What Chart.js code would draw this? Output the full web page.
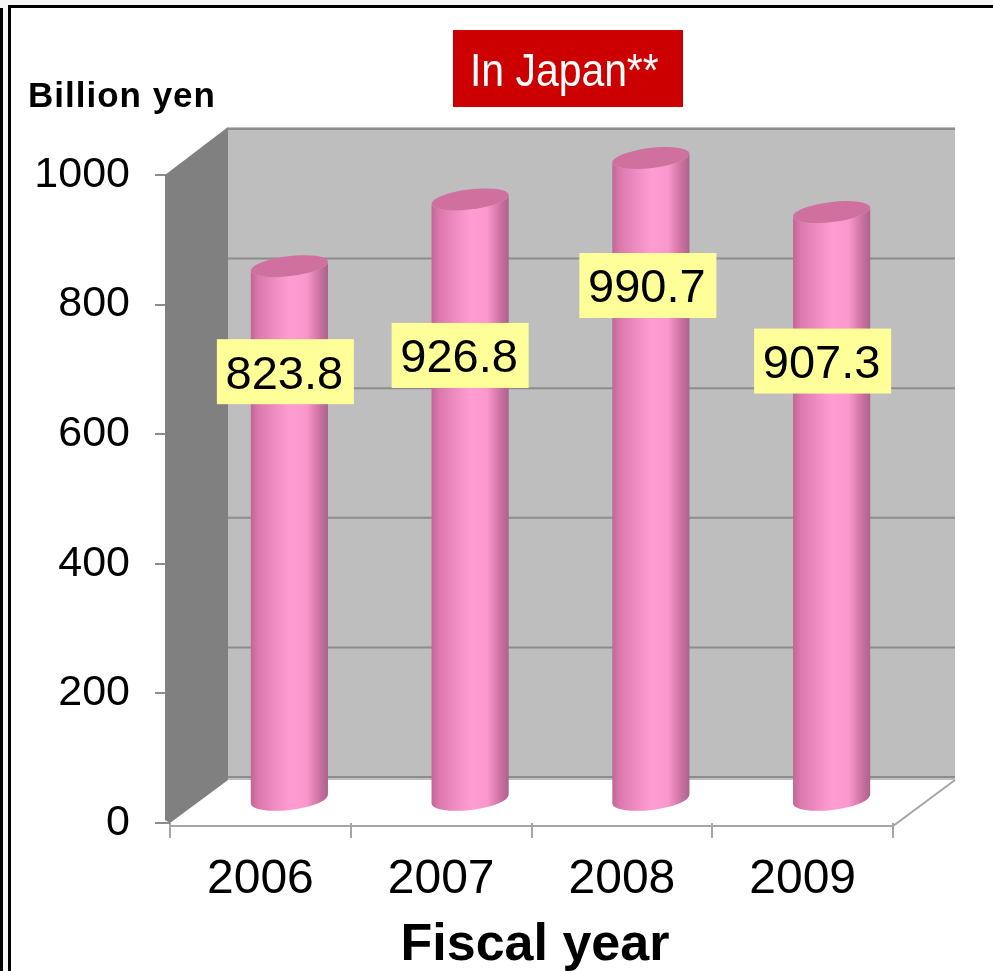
<!DOCTYPE html>
<html>
<head>
<meta charset="utf-8">
<title>In Japan</title>
<script src="https://cdn.jsdelivr.net/npm/chart.js@4"></script>
<style>
  html, body { margin: 0; padding: 0; background: #fff; overflow: hidden; }
  canvas { display: block; }
</style>
</head>
<body>
<canvas id="salesChart" width="993" height="971"></canvas>
<script>
const years = ["2006", "2007", "2008", "2009"];
const sales = [823.8, 926.8, 990.7, 907.3];
const yTicks = [0, 200, 400, 600, 800, 1000];

const FONT = '"Liberation Sans", Arial, sans-serif';

// how far the back wall sits behind the axes
const DEPTH_X = 58;
const DEPTH_Y = 46;

// value boxes are placed by hand, relative to each bar's top
const boxOffsets = [[-4, 105.5], [-10, 156], [-3, 127.5], [-9, 149]];
const BOX_W = 137;
const BOX_H = 65;

function drawFrame(ctx, w, h) {
  ctx.fillStyle = "#ffffff";
  ctx.fillRect(0, 0, w, h);
  ctx.fillStyle = "#f5f5f5";
  ctx.fillRect(0, 0, w, 5);
  ctx.fillRect(0, 0, 8, h);
  ctx.fillStyle = "#000000";
  ctx.fillRect(8, 5, w - 8, 3);
  ctx.fillRect(8, 5, 3, h - 5);
  ctx.fillRect(0, 8, 3, h - 8);
}

function drawWalls(chart) {
  const ctx = chart.ctx;
  const y = chart.scales.y;
  const a = chart.chartArea;
  const backLeft = a.left + DEPTH_X;
  const backRight = a.right + DEPTH_X + 4;
  const backTop = a.top - DEPTH_Y - 2;
  const backBottom = a.bottom - DEPTH_Y + 3;

  ctx.save();
  // back wall
  ctx.fillStyle = "#bebebe";
  ctx.fillRect(backLeft, backTop, backRight - backLeft, backBottom - backTop);

  // horizontal lines on the back wall
  ctx.strokeStyle = "#8c8c8c";
  ctx.lineWidth = 2;
  yTicks.forEach((t) => {
    const py = y.getPixelForValue(t) - DEPTH_Y;
    ctx.beginPath();
    ctx.moveTo(backLeft, py);
    ctx.lineTo(backRight, py);
    ctx.stroke();
  });

  // side wall
  ctx.fillStyle = "#808080";
  ctx.beginPath();
  ctx.moveTo(a.left - 5, a.top);
  ctx.lineTo(backLeft, backTop);
  ctx.lineTo(backLeft, backBottom);
  ctx.lineTo(a.left, a.bottom);
  ctx.lineTo(a.left - 5, a.bottom - 3);
  ctx.closePath();
  ctx.fill();

  // floor edges
  ctx.strokeStyle = "#a6a6a6";
  ctx.lineWidth = 2;
  ctx.beginPath();
  ctx.moveTo(a.left, a.bottom + 3);
  ctx.lineTo(a.right, a.bottom + 3);
  ctx.lineTo(backRight, backBottom);
  ctx.stroke();
  ctx.restore();
}

function drawCylinder(ctx, bar) {
  const half = bar.width / 2;
  const cx = bar.x + DEPTH_X / 2;
  const top = bar.y - DEPTH_Y / 2;
  const bottom = bar.base - DEPTH_Y / 2;
  const tilt = -0.12;

  const shade = ctx.createLinearGradient(cx - half, 0, cx + half, 0);
  shade.addColorStop(0, "#bf6695");
  shade.addColorStop(0.1, "#dc78ad");
  shade.addColorStop(0.5, "#ff9dd2");
  shade.addColorStop(0.72, "#fb97cc");
  shade.addColorStop(0.9, "#c96f9f");
  shade.addColorStop(1, "#a8648a");

  ctx.fillStyle = shade;
  ctx.beginPath();
  ctx.ellipse(cx, top, half, 10, tilt, Math.PI, 0, true);
  ctx.ellipse(cx, bottom, half, 11, tilt, 0, Math.PI);
  ctx.closePath();
  ctx.fill();

  ctx.fillStyle = "#d0709f";
  ctx.beginPath();
  ctx.ellipse(cx, top, half, 10, tilt, 0, Math.PI * 2);
  ctx.fill();
}

const cylinders = {
  id: "cylinders",
  beforeDraw(chart) {
    drawFrame(chart.ctx, chart.width, chart.height);
  },
  beforeDatasetsDraw(chart) {
    drawWalls(chart);
  },
  afterDatasetsDraw(chart) {
    const ctx = chart.ctx;
    const bars = chart.getDatasetMeta(0).data;
    ctx.save();
    bars.forEach((bar) => drawCylinder(ctx, bar));

    // value boxes
    ctx.font = "47px " + FONT;
    ctx.textAlign = "center";
    ctx.textBaseline = "middle";
    bars.forEach((bar, i) => {
      const bx = bar.x + DEPTH_X / 2 + boxOffsets[i][0] - BOX_W / 2;
      const by = bar.y + boxOffsets[i][1] - BOX_H / 2 - 23;
      ctx.fillStyle = "#ffff99";
      ctx.fillRect(bx, by, BOX_W, BOX_H);
      ctx.fillStyle = "#000000";
      ctx.fillText(sales[i].toFixed(1), bx + BOX_W / 2 - 1, by + BOX_H / 2 + 4);
    });
    ctx.restore();
  },
  afterDraw(chart) {
    const ctx = chart.ctx;
    ctx.save();
    ctx.fillStyle = "#cc0000";
    ctx.fillRect(453, 30, 230, 77);

    // condensed heading
    ctx.save();
    ctx.translate(470, 86);
    ctx.scale(0.87, 1);
    ctx.fillStyle = "#ffffff";
    ctx.font = "47px " + FONT;
    ctx.textAlign = "left";
    ctx.textBaseline = "alphabetic";
    ctx.fillText("In Japan**", 0, 0);
    ctx.restore();

    ctx.fillStyle = "#000000";
    ctx.font = "bold 35px " + FONT;
    ctx.letterSpacing = "1px";
    ctx.fillText("Billion yen", 28, 107);
    ctx.letterSpacing = "0px";

    ctx.font = "bold 52px " + FONT;
    ctx.textAlign = "center";
    ctx.fillText("Fiscal year", 535, 960);
    ctx.restore();
  }
};

new Chart(document.getElementById("salesChart"), {
  type: "bar",
  data: {
    labels: years,
    datasets: [{
      data: sales,
      backgroundColor: "rgba(0,0,0,0)",
      barPercentage: 0.43,
      categoryPercentage: 1
    }]
  },
  plugins: [cylinders],
  options: {
    responsive: false,
    animation: false,
    layout: { padding: { top: 175, right: 100, left: 0, bottom: 0 } },
    plugins: {
      legend: { display: false },
      tooltip: { enabled: false }
    },
    scales: {
      x: {
        afterFit(scale) { scale.height = 148; },
        border: { display: false },
        grid: { drawOnChartArea: false, color: "#a6a6a6", lineWidth: 2, tickLength: 15 },
        ticks: { color: "#000000", font: { family: FONT, size: 48 }, padding: 13, maxRotation: 0 }
      },
      y: {
        min: 0,
        max: 1000,
        afterFit(scale) { scale.width = 170; },
        afterBuildTicks(scale) { scale.ticks = yTicks.map((value) => ({ value })); },
        border: { display: false },
        grid: { drawOnChartArea: false, color: "#8c8c8c", lineWidth: 2, tickLength: 15 },
        ticks: {
          color: "#000000",
          font: { family: FONT, size: 43 },
          padding: 25,
          callback(value) { return String(value); }
        }
      }
    }
  }
});
</script>
</body>
</html>
